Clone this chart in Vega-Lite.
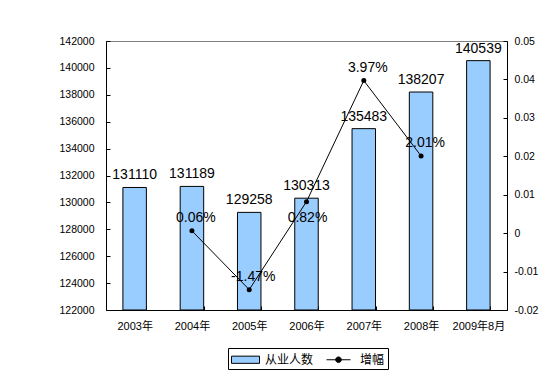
{
  "$schema": "https://vega.github.io/schema/vega-lite/v6.json",
  "width": 401,
  "height": 269,
  "autosize": {"type": "none"},
  "padding": {"left": 106, "top": 41, "right": 50, "bottom": 71},
  "background": "white",
  "config": {
    "view": {"stroke": "#808080", "strokeWidth": 1},
    "font": "Liberation Sans, Arial, 'Noto Sans CJK SC'",
    "axis": {
      "grid": false,
      "domainColor": "black",
      "tickColor": "black",
      "labelColor": "black",
      "labelFont": "Liberation Sans, Arial, 'Noto Sans CJK SC'",
      "labelFontSize": 10.5,
      "title": null
    }
  },
  "data": {
    "values": [
      {"year": "2003年", "value": 131110, "pct": null, "pctLabel": null},
      {"year": "2004年", "value": 131189, "pct": 0.0006, "pctLabel": "0.06%"},
      {"year": "2005年", "value": 129258, "pct": -0.0147, "pctLabel": "-1.47%"},
      {"year": "2006年", "value": 130313, "pct": 0.0082, "pctLabel": "0.82%"},
      {"year": "2007年", "value": 135483, "pct": 0.0397, "pctLabel": "3.97%"},
      {"year": "2008年", "value": 138207, "pct": 0.0201, "pctLabel": "2.01%"},
      {"year": "2009年8月", "value": 140539, "pct": null, "pctLabel": null}
    ]
  },
  "encoding": {
    "x": {
      "field": "year",
      "type": "nominal",
      "sort": null,
      "scale": {"paddingInner": 0.59, "paddingOuter": 0.295},
      "axis": {"labelAngle": 0, "tickBand": "extent", "tickSize": -4, "labelPadding": 14, "labelFontSize": 11}
    }
  },
  "layer": [
    {
      "encoding": {
        "y": {
          "field": "value",
          "type": "quantitative",
          "scale": {"domain": [122000, 142000], "nice": false, "zero": false},
          "axis": {"orient": "left", "values": [122000, 124000, 126000, 128000, 130000, 132000, 134000, 136000, 138000, 140000, 142000], "tickSize": -4, "labelPadding": 16, "format": "d"}
        }
      },
      "layer": [
        {
          "mark": {"type": "bar", "stroke": "black", "strokeWidth": 1},
          "encoding": {
            "y2": {"datum": 122000},
            "color": {
              "datum": "从业人数",
              "type": "nominal",
              "scale": {"domain": ["从业人数", "增幅"], "range": ["#99ccff", "black"]},
              "legend": {
                "orient": "none",
                "legendX": 122,
                "legendY": 307,
                "direction": "horizontal",
                "title": null,
                "strokeColor": "black",
                "padding": 3,
                "labelFontSize": 12,
                "labelFont": "'Noto Sans CJK SC'",
                "labelColor": "black",
                "symbolSize": 256,
                "symbolStrokeWidth": 1,
                "symbolStrokeColor": "black",
                "symbolType": {"expr": "datum.value === '增幅' ? 'M-1,0H2M0.15,0A0.35,0.35 0 1,0 0.85,0A0.35,0.35 0 1,0 0.15,0Z' : 'M-1,-0.45H2.5V0.45H-1Z'"},
                "labelOffset": 17,
                "columnPadding": 10
              }
            }
          }
        },
        {
          "mark": {"type": "text", "baseline": "alphabetic", "dy": -8, "fontSize": 14, "color": "black", "font": "Liberation Sans, Arial"},
          "encoding": {"text": {"field": "value", "type": "quantitative", "format": "d"}}
        }
      ]
    },
    {
      "transform": [{"filter": "datum.pct != null"}],
      "encoding": {
        "y": {
          "field": "pct",
          "type": "quantitative",
          "scale": {"domain": [-0.02, 0.05], "nice": false, "zero": false},
          "axis": {"orient": "right", "values": [-0.02, -0.01, 0, 0.01, 0.02, 0.03, 0.04, 0.05], "tickSize": -4, "labelPadding": 11, "labelExpr": "toString(round(datum.value*100)/100)"}
        }
      },
      "layer": [
        {
          "mark": {"type": "line", "strokeWidth": 1, "color": "black"},
          "encoding": {}
        },
        {
          "mark": {"type": "point", "filled": true, "shape": "circle", "size": 25, "opacity": 1, "color": "black"},
          "encoding": {}
        },
        {
          "transform": [{"filter": "datum.year != '2006年'"}],
          "mark": {"type": "text", "baseline": "alphabetic", "dy": -9, "dx": 4, "fontSize": 14, "color": "black", "font": "Liberation Sans, Arial"},
          "encoding": {"text": {"field": "pctLabel", "type": "nominal"}}
        },
        {
          "transform": [{"filter": "datum.year == '2006年'"}],
          "mark": {"type": "text", "baseline": "alphabetic", "dy": 20, "dx": 1, "fontSize": 14, "color": "black", "font": "Liberation Sans, Arial"},
          "encoding": {"text": {"field": "pctLabel", "type": "nominal"}}
        }
      ]
    }
  ],
  "resolve": {"scale": {"y": "independent"}}
}
